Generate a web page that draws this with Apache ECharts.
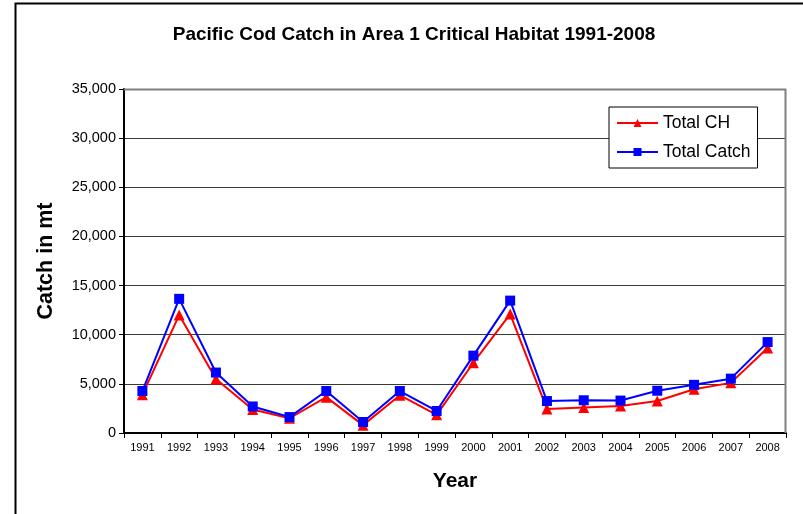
<!DOCTYPE html>
<html>
<head>
<meta charset="utf-8">
<script src="https://cdn.jsdelivr.net/npm/echarts@6/dist/echarts.min.js"></script>
<style>
html,body{margin:0;padding:0;background:#fff;}
#chart{width:803px;height:514px;}
</style>
</head>
<body>
<div id="chart"></div>
<script>
const years = ['1991','1992','1993','1994','1995','1996','1997','1998','1999','2000','2001','2002','2003','2004','2005','2006','2007','2008'];
const totalCH = [3900, 12000, 5500, 2400, 1500, 3650, 800, 3850, 1850, 7150, 12100, 2450, 2600, 2750, 3250, 4450, 5100, 8650];
const totalCatch = [4270, 13650, 6150, 2700, 1620, 4270, 1120, 4270, 2240, 7870, 13470, 3250, 3330, 3300, 4300, 4900, 5530, 9250];
const yTicks = [0, 5000, 10000, 15000, 20000, 25000, 30000, 35000];

const FONT = '"Liberation Sans", Arial, sans-serif';
const chart = echarts.init(document.getElementById('chart'), null, {renderer: 'canvas'});
chart.setOption({
  backgroundColor: '#fff',
  animation: false,
  title: {
    text: 'Pacific Cod Catch in Area 1 Critical Habitat 1991-2008',
    left: 409, top: 20, textAlign: 'center',
    textStyle: {fontFamily: FONT, fontSize: 19, fontWeight: 'bold', color: '#000'}
  },
  graphic: [
    {type: 'polyline', shape: {points: [[15.5, 520], [15.5, 3.5], [810, 3.5]]},
     style: {stroke: '#000', lineWidth: 2, fill: null}, silent: true},
    {type: 'polyline', shape: {points: [[124, 89.5], [785.5, 89.5], [785.5, 433]]},
     style: {stroke: '#808080', lineWidth: 2, fill: null}, silent: true, z: 1}
  ],
  legend: {
    orient: 'vertical',
    left: 609, top: 107,
    padding: [7, 7, 7, 7],
    itemGap: 11,
    itemWidth: 41, itemHeight: 10,
    backgroundColor: '#fff',
    borderColor: '#000', borderWidth: 1,
    textStyle: {fontFamily: FONT, fontSize: 17.5, color: '#000'},
    data: ['Total CH', 'Total Catch'],
    z: 10
  },
  grid: {left: 124, right: 17, top: 89, bottom: 81},
  xAxis: {
    type: 'category',
    data: years,
    boundaryGap: true,
    name: 'Year',
    nameLocation: 'middle',
    nameGap: 38,
    nameTextStyle: {fontFamily: FONT, fontSize: 21, fontWeight: 'bold', color: '#000', verticalAlign: 'top'},
    axisLine: {lineStyle: {color: '#000', width: 2}},
    axisTick: {show: true, alignWithLabel: false, length: 5, lineStyle: {color: '#000', width: 1}},
    axisLabel: {fontFamily: FONT, fontSize: 11, color: '#000', margin: 9, interval: 0}
  },
  yAxis: {
    type: 'value',
    min: 0, max: 35000, interval: 5000,
    name: 'Catch in mt',
    nameLocation: 'middle',
    nameGap: 67,
    nameTextStyle: {fontFamily: FONT, fontSize: 21.5, fontWeight: 'bold', color: '#000'},
    axisLine: {show: true, lineStyle: {color: '#000', width: 2}},
    axisTick: {show: true, length: 5, lineStyle: {color: '#000'}},
    axisLabel: {fontFamily: FONT, fontSize: 14.5, color: '#000', margin: 8,
      formatter: v => yTicks.includes(v) ? v.toLocaleString('en-US') : ''},
    splitLine: {show: true, lineStyle: {color: '#3a3a3a', width: 1}}
  },
  series: [
    {
      name: 'Total CH', type: 'line', data: totalCH,
      symbol: 'triangle', symbolSize: 11,
      lineStyle: {color: '#ff0000', width: 2},
      itemStyle: {color: '#ff0000'},
      z: 3
    },
    {
      name: 'Total Catch', type: 'line', data: totalCatch,
      symbol: 'rect', symbolSize: 10,
      lineStyle: {color: '#0000ff', width: 2},
      itemStyle: {color: '#0000ff'},
      z: 4
    }
  ]
});
</script>
</body>
</html>
